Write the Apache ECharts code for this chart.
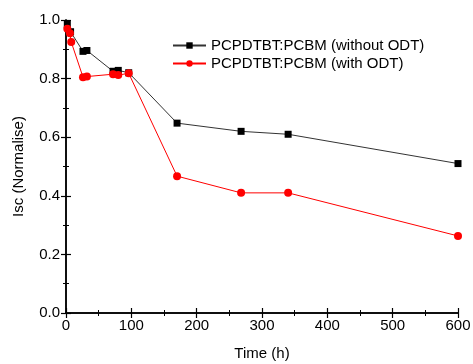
<!DOCTYPE html>
<html>
<head>
<meta charset="utf-8">
<script src="https://cdn.jsdelivr.net/npm/echarts@6/dist/echarts.min.js"></script>
<style>html,body{margin:0;padding:0;background:#fff}#c{width:473px;height:364px}</style>
</head>
<body>
<div id="c"></div>
<script>
var seriesNames = ['PCPDTBT:PCBM (without ODT)', 'PCPDTBT:PCBM (with ODT)'];
var timeWithout = [2, 7, 26, 32, 72, 80, 96, 170, 268, 340, 600];
var iscWithout = [0.985, 0.96, 0.893, 0.896, 0.825, 0.828, 0.82, 0.648, 0.62, 0.61, 0.51];
var timeWith = [2, 6, 8, 26, 32, 72, 80, 96, 170, 268, 340, 600];
var iscWith = [0.97, 0.955, 0.925, 0.805, 0.807, 0.815, 0.812, 0.818, 0.467, 0.41, 0.41, 0.263];
var xTicks = [0, 100, 200, 300, 400, 500, 600];
var yTicks = [0.0, 0.2, 0.4, 0.6, 0.8, 1.0];

function pairs(xs, ys) { return xs.map(function (x, i) { return [x, ys[i]]; }); }

var font = 'Liberation Sans, Arial, sans-serif';
var axisLine = { show: true, lineStyle: { color: '#000', width: 1.5 } };
var tick = { show: true, inside: true, length: 5, lineStyle: { color: '#000', width: 1.2 } };
var minor = { show: true, splitNumber: 2, length: 3, lineStyle: { color: '#000', width: 1 } };

var chart = echarts.init(document.getElementById('c'), null, { renderer: 'canvas' });
chart.setOption({
  animation: false,
  backgroundColor: '#fff',
  grid: { left: 66, right: 15, top: 20, bottom: 51, containLabel: false, outerBoundsMode: 'none' },
  legend: {
    left: 167, top: 33, orient: 'vertical', itemGap: 3,
    itemWidth: 33, itemHeight: 8,
    textStyle: { fontFamily: font, fontSize: 15, color: '#000' },
    data: seriesNames
  },
  xAxis: [{
    type: 'value', min: 0, max: 600, interval: 100,
    name: 'Time (h)', nameLocation: 'middle', nameGap: 33,
    nameTextStyle: { fontFamily: font, fontSize: 15, color: '#000' },
    axisLine: axisLine, axisTick: tick, minorTick: minor, splitLine: { show: false },
    axisLabel: { fontFamily: font, fontSize: 15, color: '#000', margin: 5 }
  }, {
    type: 'value', min: 0, max: 600, interval: 100, position: 'top',
    axisLine: axisLine, axisTick: tick, minorTick: minor, splitLine: { show: false },
    axisLabel: { show: false }
  }],
  yAxis: [{
    type: 'value', min: 0, max: 1, interval: 0.2,
    name: 'Isc (Normalise)', nameLocation: 'middle', nameGap: 40, nameRotate: 90,
    nameTextStyle: { fontFamily: font, fontSize: 15, color: '#000' },
    axisLine: axisLine, axisTick: tick, minorTick: minor, splitLine: { show: false },
    axisLabel: { fontFamily: font, fontSize: 15, color: '#000', margin: 6,
      formatter: function (v) { return v.toFixed(1); } }
  }, {
    type: 'value', min: 0, max: 1, interval: 0.2, position: 'right',
    axisLine: axisLine, axisTick: tick, minorTick: minor, splitLine: { show: false },
    axisLabel: { show: false }
  }],
  series: [{
    name: seriesNames[0], type: 'line', data: pairs(timeWithout, iscWithout),
    symbol: 'rect', symbolSize: 7,
    itemStyle: { color: '#000' }, lineStyle: { color: '#333', width: 1 }
  }, {
    name: seriesNames[1], type: 'line', data: pairs(timeWith, iscWith),
    symbol: 'circle', symbolSize: 8,
    itemStyle: { color: '#ff0000' }, lineStyle: { color: '#ff0000', width: 1 }
  }]
});
</script>
</body>
</html>
